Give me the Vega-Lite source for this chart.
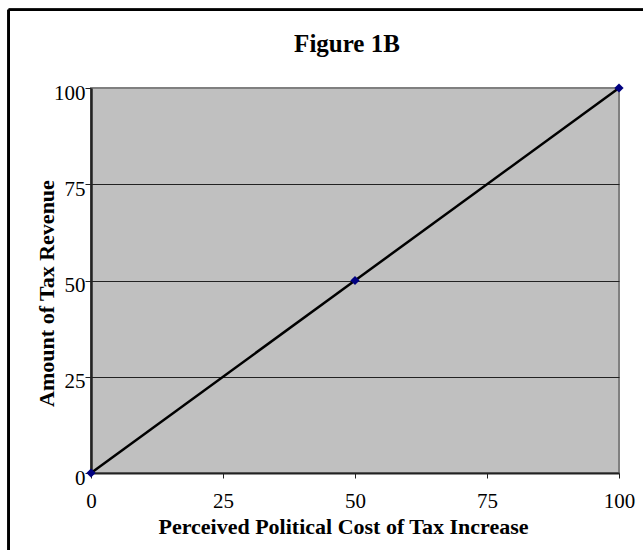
{
  "$schema": "https://vega.github.io/schema/vega-lite/v6.json",
  "width": 528,
  "height": 385,
  "autosize": {"type": "none"},
  "padding": {"left": 91, "top": 88, "right": 24, "bottom": 77},
  "background": "white",
  "title": {
    "text": "Figure 1B",
    "font": "Liberation Serif",
    "fontSize": 25,
    "fontWeight": "bold",
    "color": "black",
    "anchor": "middle",
    "frame": "group",
    "offset": 0,
    "dy": 48,
    "dx": -8
  },
  "config": {
    "font": "Liberation Serif",
    "view": {"fill": "#C0C0C0", "stroke": "#808080", "strokeWidth": 2}
  },
  "data": {
    "values": [
      {"cost": 0, "revenue": 0},
      {"cost": 50, "revenue": 50},
      {"cost": 100, "revenue": 100}
    ]
  },
  "layer": [
    {
      "mark": {"type": "line", "color": "black", "strokeWidth": 2.5},
      "encoding": {
        "x": {
          "field": "cost",
          "type": "quantitative",
          "scale": {"domain": [0, 100], "nice": false, "zero": false},
          "axis": {
            "title": "Perceived Political Cost of Tax Increase",
            "titleFont": "Liberation Serif",
            "titleFontSize": 22,
            "titleFontWeight": "bold",
            "titleColor": "black",
            "titleBaseline": "alphabetic",
            "titleX": 252,
            "titleY": 60,
            "titleAnchor": "middle",
            "values": [0, 25, 50, 75, 100],
            "grid": false,
            "domainColor": "#222222",
            "domainWidth": 2,
            "tickColor": "#222222",
            "tickSize": 5,
            "tickWidth": 1,
            "labelFont": "Liberation Serif",
            "labelFontSize": 21,
            "labelColor": "black",
            "labelBaseline": "alphabetic",
            "labelPadding": 29,
            "labelFlush": false,
            "labelOverlap": false
          }
        },
        "y": {
          "field": "revenue",
          "type": "quantitative",
          "scale": {"domain": [0, 100], "nice": false, "zero": false},
          "axis": {
            "title": "Amount of Tax Revenue",
            "titleFont": "Liberation Serif",
            "titleFontSize": 22,
            "titleFontWeight": "bold",
            "titleColor": "black",
            "titleAngle": -90,
            "titleBaseline": "alphabetic",
            "titleAlign": "center",
            "titleX": -38,
            "titleY": 205,
            "values": [0, 25, 50, 75, 100],
            "grid": true,
            "gridColor": {
              "condition": {"test": "datum.value === 0 || datum.value === 100", "value": "transparent"},
              "value": "#222222"
            },
            "gridWidth": 1.2,
            "domainColor": "#222222",
            "domainWidth": 2.5,
            "tickColor": "#222222",
            "tickSize": 6,
            "tickWidth": 1,
            "labelFont": "Liberation Serif",
            "labelFontSize": 21,
            "labelColor": "black",
            "labelBaseline": "alphabetic",
            "labelOffset": 11,
            "labelPadding": 0,
            "labelFlush": false,
            "labelOverlap": false
          }
        }
      }
    },
    {
      "mark": {"type": "point", "shape": "diamond", "filled": true, "color": "#000080", "opacity": 1, "size": 85},
      "encoding": {
        "x": {"field": "cost", "type": "quantitative"},
        "y": {"field": "revenue", "type": "quantitative"}
      }
    },
    {
      "mark": {"type": "rule", "color": "black", "strokeWidth": 2.5},
      "encoding": {
        "x": {"datum": -15.6},
        "x2": {"datum": 110},
        "y": {"datum": 120.3}
      }
    },
    {
      "mark": {"type": "rule", "color": "black", "strokeWidth": 2.5},
      "encoding": {
        "x": {"datum": -15.6},
        "y": {"datum": 120.3},
        "y2": {"datum": -30}
      }
    }
  ]
}
